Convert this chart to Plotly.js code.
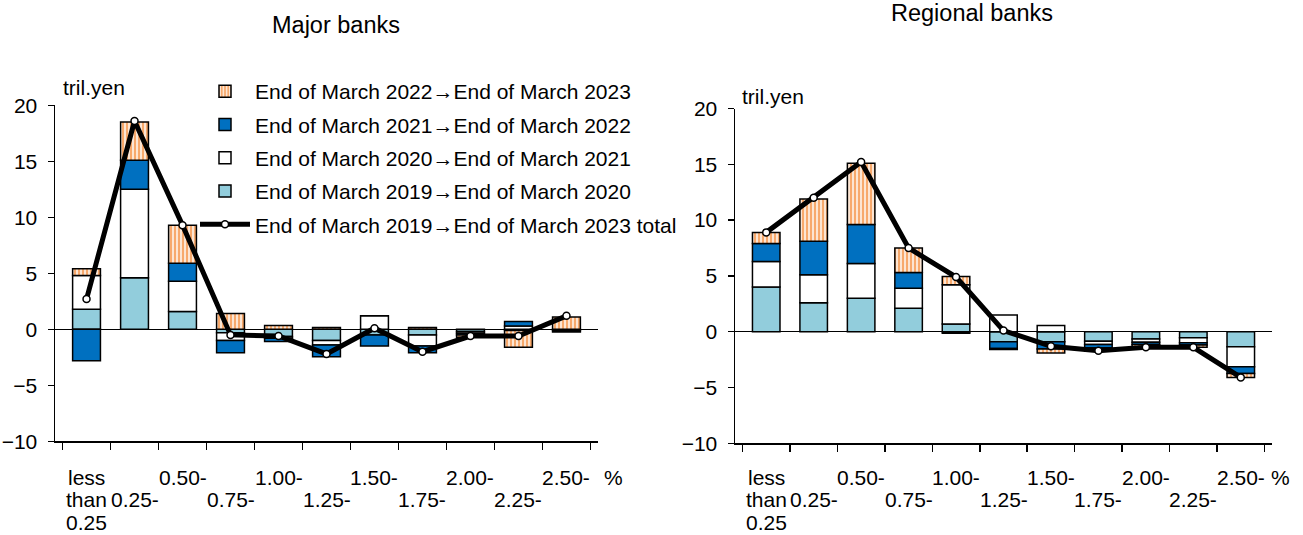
<!DOCTYPE html>
<html>
<head>
<meta charset="utf-8">
<script src="https://cdn.plot.ly/plotly-3.0.1.min.js"></script>
<style>html,body{margin:0;padding:0;background:#fff;}#chart{width:1303px;height:535px;}</style>
</head>
<body>
<div id="chart"></div>
<script>
// ---- data ----
const categories = ['less than 0.25','0.25-','0.50-','0.75-','1.00-','1.25-','1.50-','1.75-','2.00-','2.25-','2.50-'];
const tickLabelLines = [['less','than','0.25'],['0.25-'],['0.50-'],['0.75-'],['1.00-'],['1.25-'],['1.50-'],['1.75-'],['2.00-'],['2.25-'],['2.50-']];
const seriesNames = [
  'End of March 2019\u2192End of March 2020',
  'End of March 2020\u2192End of March 2021',
  'End of March 2021\u2192End of March 2022',
  'End of March 2022\u2192End of March 2023',
  'End of March 2019\u2192End of March 2023 total'
];
// Major banks (tril. yen)
const major2019_20 = [1.8, 4.6, 1.6, -0.3, -0.65, -1.0, -0.5, -0.5, -0.2, -0.1, -0.1];
const major2020_21 = [3.0, 7.9, 2.7, -0.7, -0.15, -0.4, 1.2, -1.0, -0.15, 0.3, 0];
const major2021_22 = [-2.8, 2.6, 1.6, -1.1, -0.3, -1.05, -1.0, -0.6, -0.15, 0.4, -0.15];
const major2022_23 = [0.6, 3.4, 3.4, 1.4, 0.35, 0.15, 0, 0.15, -0.2, -1.5, 1.1];
const majorTotal   = [2.7, 18.6, 9.3, -0.5, -0.6, -2.2, 0.1, -2.0, -0.6, -0.6, 1.2];
// Regional banks (tril. yen)
const regional2019_20 = [4.0, 2.6, 3.0, 2.1, 0.7, -0.9, -0.9, -0.85, -0.65, -0.55, -1.35];
const regional2020_21 = [2.3, 2.5, 3.1, 1.8, 3.5, 1.5, 0.55, -0.3, -0.3, -0.45, -1.8];
const regional2021_22 = [1.6, 3.0, 3.5, 1.4, -0.15, -0.6, -0.65, -0.3, -0.2, -0.2, -0.6];
const regional2022_23 = [1.0, 3.8, 5.5, 2.2, 0.75, -0.1, -0.35, -0.3, -0.2, -0.2, -0.35];
const regionalTotal   = [8.9, 12.0, 15.2, 7.5, 4.9, 0.1, -1.3, -1.7, -1.4, -1.4, -4.1];

// ---- styles ----
const FONT = 'Liberation Sans, Arial, sans-serif';
const FS = 21;
const outline = {color:'#000', width:1.5};
const barStyles = [
  {color:'#92CDDC', line:outline},
  {color:'#FFFFFF', line:outline},
  {color:'#0070C0', line:outline},
  {color:'#F9B27A', line:outline, pattern:{shape:'|', fgcolor:'#FFFFFF', bgcolor:'#F7A96C', size:4, solidity:0.35, fillmode:'replace'}}
];
const ranks = [4,3,2,1];

function makeTraces(vals, total, xa, ya, showLeg){
  const tr = [];
  vals.forEach((v,i)=>{
    tr.push({type:'bar', x:categories, y:v, name:seriesNames[i], marker:barStyles[i],
      xaxis:xa, yaxis:ya, showlegend:showLeg, legendrank:ranks[i], legendgroup:'g'+i});
  });
  tr.push({type:'scatter', mode:'lines+markers', x:categories, y:total, name:seriesNames[4],
    line:{color:'#000', width:5}, marker:{color:'#fff', size:7, line:{color:'#000', width:1.5}},
    xaxis:xa, yaxis:ya, showlegend:showLeg, legendrank:5, legendgroup:'g4'});
  return tr;
}

const data = [
  ...makeTraces([major2019_20, major2020_21, major2021_22, major2022_23], majorTotal, 'x', 'y', true),
  ...makeTraces([regional2019_20, regional2020_21, regional2021_22, regional2022_23], regionalTotal, 'x2', 'y2', false)
];

function xaxisDef(domain, anchor){
  return {domain:domain, anchor:anchor, type:'category', categoryarray:categories,
    showline:true, linecolor:'#000', linewidth:1.5, ticks:'outside', tickson:'boundaries', ticklen:7,
    tickcolor:'#000', tickwidth:1.5, showgrid:false, zeroline:false, showticklabels:false};
}
function yaxisDef(domain, anchor){
  return {domain:domain, anchor:anchor, range:[-10,20], dtick:5, tick0:0,
    showline:true, linecolor:'#000', linewidth:1.5, ticks:'outside', ticklen:6, ticklabelstandoff:6,
    tickcolor:'#000', tickwidth:1.5, showgrid:false, zeroline:true, zerolinecolor:'#000', zerolinewidth:1.5,
    tickfont:{family:FONT, size:FS, color:'#000'}};
}

const ann = (text, x, y, xa, size) => ({text:text, x:x, y:y, xref:'paper', yref:'paper', xanchor:xa||'left', yanchor:'middle',
  showarrow:false, font:{family:FONT, size:size||FS, color:'#000'}});

const annotations = [
  ann('Major banks', 336/1303, 1-25/535, 'center', 23.5),
  ann('Regional banks', 972/1303, 1-13/535, 'center', 23.5),
  ann('tril.yen', 61/1303, 1-88/535),
  ann('tril.yen', 740/1303, 1-97/535),
  ann('%', 602/1303, 1-477/535),
  ann('%', 1269/1303, 1-477/535)
];
// category labels, staggered rows, placed through the category axes
['x','x2'].forEach(xr=>{
  tickLabelLines.forEach((lines, i)=>{
    const startRow = lines.length > 1 ? 0 : i % 2;
    lines.forEach((t, j)=>{
      annotations.push({text:t, x:categories[i], xref:xr, y:1-(477+(startRow+j)*22.5)/535, yref:'paper',
        xanchor:'center', yanchor:'middle', showarrow:false, font:{family:FONT, size:FS, color:'#000'}});
    });
  });
});

const layout = {
  width:1303, height:535,
  margin:{l:0, r:0, t:0, b:0},
  paper_bgcolor:'#fff', plot_bgcolor:'rgba(0,0,0,0)',
  barmode:'relative', bargap:0.42,
  font:{family:FONT, size:FS, color:'#000'},
  xaxis: xaxisDef([55/1303, 598/1303], 'y'),
  yaxis: yaxisDef([1-441.3/535, 1-105.3/535], 'x'),
  xaxis2: xaxisDef([735/1303, 1272/1303], 'y2'),
  yaxis2: yaxisDef([1-443.3/535, 1-108.5/535], 'x2'),
  legend:{x:195/1303, y:1-71/535, xanchor:'left', yanchor:'top', traceorder:'grouped', tracegroupgap:3,
    bgcolor:'rgba(0,0,0,0)', font:{family:FONT, size:FS, color:'#000'}, itemwidth:50},
  annotations:annotations
};

Plotly.newPlot('chart', data, layout, {staticPlot:true});
</script>
</body>
</html>
